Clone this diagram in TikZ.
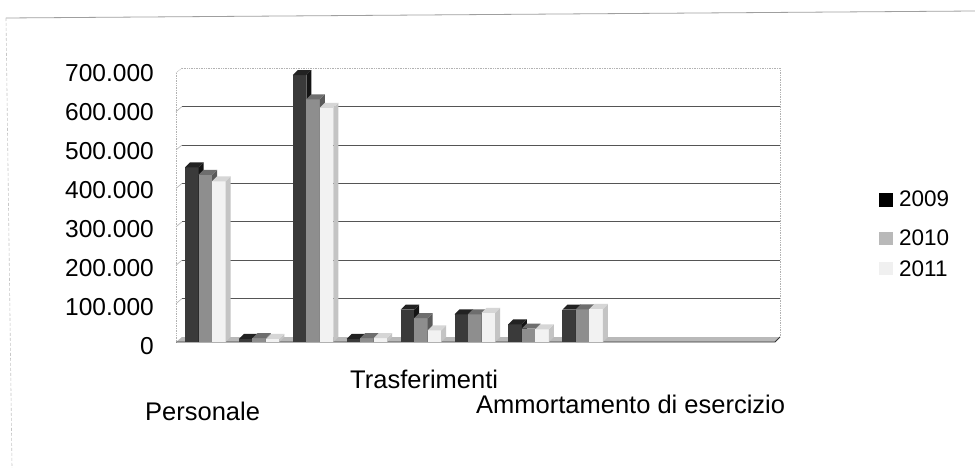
\documentclass[tikz,border=0pt]{standalone}
\usepackage{fontspec}
\setmainfont{Liberation Sans}
\definecolor{cA}{HTML}{3A3A3A}
\definecolor{cAs}{HTML}{141414}
\definecolor{cAt}{HTML}{222222}
\definecolor{cB}{HTML}{8E8E8E}
\definecolor{cBs}{HTML}{5A5A5A}
\definecolor{cBt}{HTML}{6E6E6E}
\definecolor{cC}{HTML}{F2F2F2}
\definecolor{cCs}{HTML}{C4C4C4}
\definecolor{cCt}{HTML}{D6D6D6}
\definecolor{gridc}{HTML}{555555}
\newcommand\cbar[5]{%
  \pgfmathsetmacro\yt{342-0.384*#2}%
  \fill[#3] (#1,342) rectangle (#1+13.5,\yt);
  \fill[#4] (#1+13.5,342) -- (#1+18.5,337) -- (#1+18.5,\yt-5) -- (#1+13.5,\yt) -- cycle;
  \fill[#5] (#1,\yt) -- (#1+5,\yt-5) -- (#1+18.5,\yt-5) -- (#1+13.5,\yt) -- cycle;
}
\begin{document}
\begin{tikzpicture}[x=1pt,y=-1pt,
  ylab/.style={anchor=base east,inner sep=0pt,font=\fontsize{24.5}{24.5}\selectfont},
  clab/.style={anchor=base west,inner sep=0pt,font=\fontsize{25.5}{25.5}\selectfont},
  llab/.style={anchor=base west,inner sep=0pt,font=\fontsize{22.5}{22.5}\selectfont},
  gridline/.style={draw=gridc,line width=0.9pt},
  walledge/.style={draw=gray!60,line width=0.7pt,densely dotted}]
\useasboundingbox (0,0) rectangle (975,468);
\fill[white] (0,0) rectangle (975,468);
% outer frame
\draw[gray!75,line width=0.8pt] (6,18) -- (975,11);
\draw[gray!45,densely dashed,line width=0.6pt] (6,18) -- (12,468);
% back wall
\draw[walledge] (182,68) -- (780,68) -- (780,337);
\draw[walledge] (176,73) -- (176,342);
\draw[walledge] (176,73) -- (182,68);
\foreach \k in {1,...,6}{
  \draw[gridline] (182,337-38.4*\k) -- (780,337-38.4*\k);
  \draw[gray!60,line width=0.6pt] (176,342-38.4*\k) -- (182,337-38.4*\k);
}
% floor
\fill[gray!55] (176,342) -- (182,337) -- (780,337) -- (775,342) -- cycle;
\draw[black!80,line width=0.9pt] (176,342) -- (775,342) -- (780,337);
% bars
\foreach \k/\a/\b/\c in {0/455/435/418,1/8/10/8,2/695/632/610,3/8/10/10,4/84/62/30,5/72/72/76,6/46/35/33,7/84/85/86}{
  \pgfmathsetmacro\xg{185+53.9*\k}
  \cbar{\xg}{\a}{cA}{cAs}{cAt}
  \cbar{\xg+13.5}{\b}{cB}{cBs}{cBt}
  \cbar{\xg+27}{\c}{cC}{cCs}{cCt}
}
% y axis labels
\foreach \v/\t in {0/0,1/100.000,2/200.000,3/300.000,4/400.000,5/500.000,6/600.000,7/700.000}{
  \node[ylab] (y\v) at (154,354-38.9*\v) {\t};
}
% category labels
\node[clab] (cat1) at (145,420) {Personale};
\node[clab] (cat2) at (350,388) {Trasferimenti};
\node[clab] (cat3) at (476,413) {Ammortamento di esercizio};
% legend
\fill[black] (879,193) rectangle (893,207);
\fill[gray!55] (879,232) rectangle (893,245);
\fill[gray!12] (879,262) rectangle (893,275);
\node[llab] (l1) at (899,207) {2009};
\node[llab] (l2) at (899,245) {2010};
\node[llab] (l3) at (899,276) {2011};
\end{tikzpicture}
\end{document}
